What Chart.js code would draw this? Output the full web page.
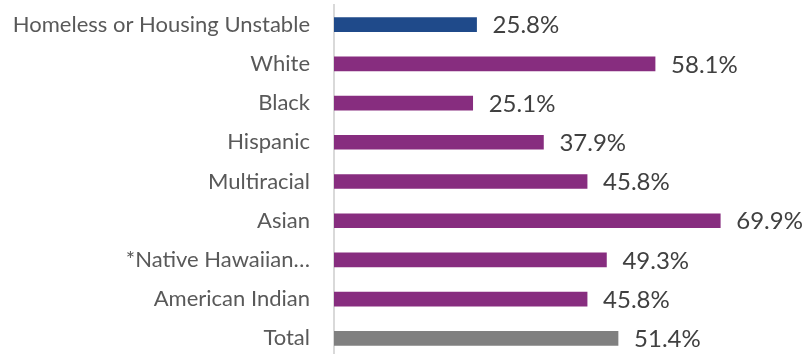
<!DOCTYPE html>
<html>
<head>
<meta charset="utf-8">
<script src="https://cdn.jsdelivr.net/npm/chart.js@4.4.0/dist/chart.umd.min.js"></script>
<style>
  html, body { margin: 0; padding: 0; background: #fff; overflow: hidden; }
</style>
</head>
<body>
<canvas id="rateChart" width="812" height="360"></canvas>
<script>
var categories = ['Homeless or Housing Unstable', 'White', 'Black', 'Hispanic', 'Multiracial',
                  'Asian', '*Native Hawaiian…', 'American Indian', 'Total'];
var rates = [25.8, 58.1, 25.1, 37.9, 45.8, 69.9, 49.3, 45.8, 51.4];
var barColors = ['#1F4A8A', '#872D7F', '#872D7F', '#872D7F', '#872D7F',
                 '#872D7F', '#872D7F', '#872D7F', '#808080'];

// draws the % labels to the right of each bar
var valueLabels = {
    id: 'valueLabels',
    afterDatasetsDraw: function (chart) {
        var ctx = chart.ctx;
        var meta = chart.getDatasetMeta(0);
        ctx.save();
        ctx.font = '24px Lato';
        ctx.fillStyle = '#404040';
        ctx.textBaseline = 'middle';
        ctx.textAlign = 'left';
        meta.data.forEach(function (bar, i) {
            ctx.fillText(rates[i].toFixed(1) + '%', bar.x + 16, bar.y + 1);
        });
        ctx.restore();
    }
};

var rate_chart = new Chart(document.getElementById('rateChart'), {
    type: 'bar',
    data: {
        labels: categories,
        datasets: [{
            data: rates,
            backgroundColor: barColors,
            borderWidth: 0,
            barThickness: 14,
        }]
    },
    options: {
        indexAxis: 'y',
        responsive: false,
        animation: false,
        layout: {
            padding: { left: 0, right: 0, top: 5, bottom: 2 }
        },
        plugins: {
            legend: { display: false },
            tooltip: { enabled: false },
        },
        scales: {
            x: {
                display: false,
                min: 0,
                max: 86.5,
            },
            y: {
                grid: { display: false, drawTicks: false },
                border: { display: true, color: '#D9D9D9', width: 2 },
                ticks: {
                    color: '#595959',
                    padding: 24,
                    font: { family: 'Lato', size: 22 },
                },
                afterFit: function (scale) {
                    // no extra top/bottom room from tick padding, fixed axis position
                    scale.paddingTop = 0;
                    scale.paddingBottom = 0;
                    scale.width = 334;
                }
            }
        }
    },
    plugins: [valueLabels]
});
</script>
</body>
</html>
